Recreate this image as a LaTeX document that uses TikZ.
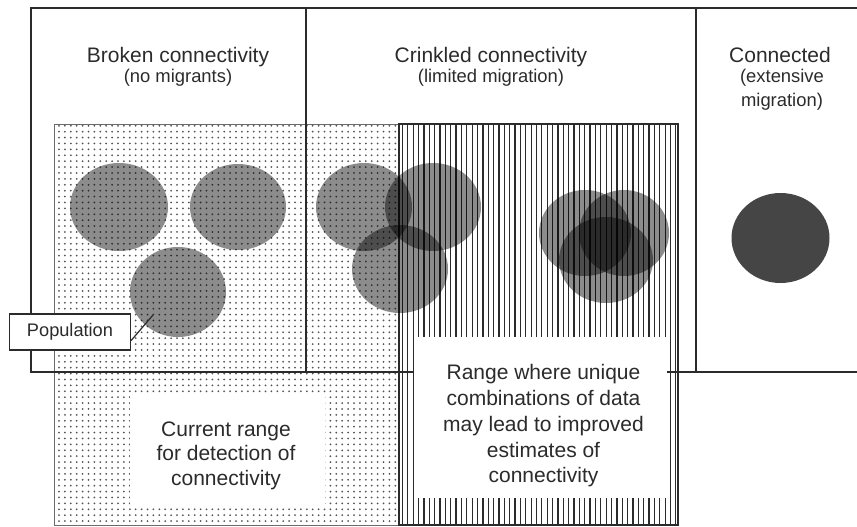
\documentclass[tikz,border=0pt]{standalone}
\usepackage{fontspec}
\setmainfont{Liberation Sans}
\usetikzlibrary{patterns.meta}
\definecolor{ink}{HTML}{2B2B2B}
\definecolor{dotink}{HTML}{555555}
\definecolor{solidpop}{HTML}{454545}
\begin{document}
\begin{tikzpicture}[x=1pt,y=-1pt,
  frame/.style={draw=ink,line width=1.5pt},
  zoneedge/.style={draw=ink!70,line width=1pt},
  title/.style={font=\fontsize{21}{25}\selectfont,text=ink,anchor=base,inner sep=0pt},
  subtitle/.style={font=\fontsize{18.4}{24.5}\selectfont,text=ink,anchor=base,inner sep=0pt,align=center},
  rangetext/.style={text=ink,anchor=base,inner sep=0pt,align=center},
  whitebox/.style={fill=white,draw=none,inner sep=0pt},
  stripe/.style={draw=ink,line width=1.25pt},
  popdisc/.style={fill=black,fill opacity=0.45},
  labelbox/.style={draw=ink,line width=1.2pt,fill=white,inner sep=0pt,
    minimum width=121pt,minimum height=36pt,text=ink,font=\fontsize{18.2}{22}\selectfont},
  pointer/.style={draw=ink,line width=1.2pt}]
\useasboundingbox (0,0) rectangle (857,527);
\clip (0,0) rectangle (857,527);

% dotted zone: current detection range
\path[pattern={Dots[distance=5.9pt,radius=1pt]},pattern color=dotink]
  (54,124) rectangle (399,525);
\draw[zoneedge] (54,124) rectangle (399,525);

% striped zone: improved estimates
\foreach \i in {0,...,51}
  \draw[stripe] ({402.5+\i*5.36},124) -- ++(0,401);
\draw[stripe] (399,124) rectangle (678,525);

% connectivity classes
\draw[frame] (31,8) rectangle (306,372);
\draw[frame] (306,8) rectangle (696,372);
\draw[frame] (696,8) rectangle (870,372);

% white panels behind the range captions
\node[whitebox,minimum width=195pt,minimum height=112pt] (curpanel) at (227.5,451) {};
\node[whitebox,minimum width=253pt,minimum height=161pt] (rngpanel) at (540.5,417.5) {};

% populations
\fill[popdisc] (119,207) ellipse [x radius=49,y radius=44];
\fill[popdisc] (238,207) ellipse [x radius=48,y radius=43];
\fill[popdisc] (178,292) ellipse [x radius=48,y radius=45];

\fill[popdisc] (364,207) ellipse [x radius=48,y radius=44];
\fill[popdisc] (433,207) ellipse [x radius=48,y radius=44];
\fill[popdisc] (400,269) ellipse [x radius=48,y radius=44];

\fill[popdisc] (585,233) ellipse [x radius=46,y radius=43];
\fill[popdisc] (624,233) ellipse [x radius=45,y radius=43];
\fill[popdisc] (606,260) ellipse [x radius=47,y radius=43];

\fill[solidpop] (780.5,238) ellipse [x radius=49,y radius=45];

% headings (base anchor of a multi-line node sits on its last line)
\node[title] (brokenT) at (178,62.7) {Broken connectivity};
\node[subtitle] (brokenS) at (178,82) {(no migrants)};
\node[title] (crinkT) at (491,62.7) {Crinkled connectivity};
\node[subtitle] (crinkS) at (491,82) {(limited migration)};
\node[title] (connT) at (780,62.7) {Connected};
\node[subtitle] (connS) at (782,106.5) {(extensive\\migration)};

% range captions
\node[rangetext,font=\fontsize{21}{24.5}\selectfont] (curtext) at (226,485)
  {Current range\\for detection of\\connectivity};
\node[rangetext,font=\fontsize{21}{25.7}\selectfont] (rngtext) at (543.5,482.7)
  {Range where unique\\combinations of data\\may lead to improved\\estimates of\\connectivity};

% population label
\node[labelbox] (pop) at (70,332) {Population};
\coordinate (poptip) at (153,315);
\draw[pointer] (pop.-8) -- (poptip);
\end{tikzpicture}
\end{document}
